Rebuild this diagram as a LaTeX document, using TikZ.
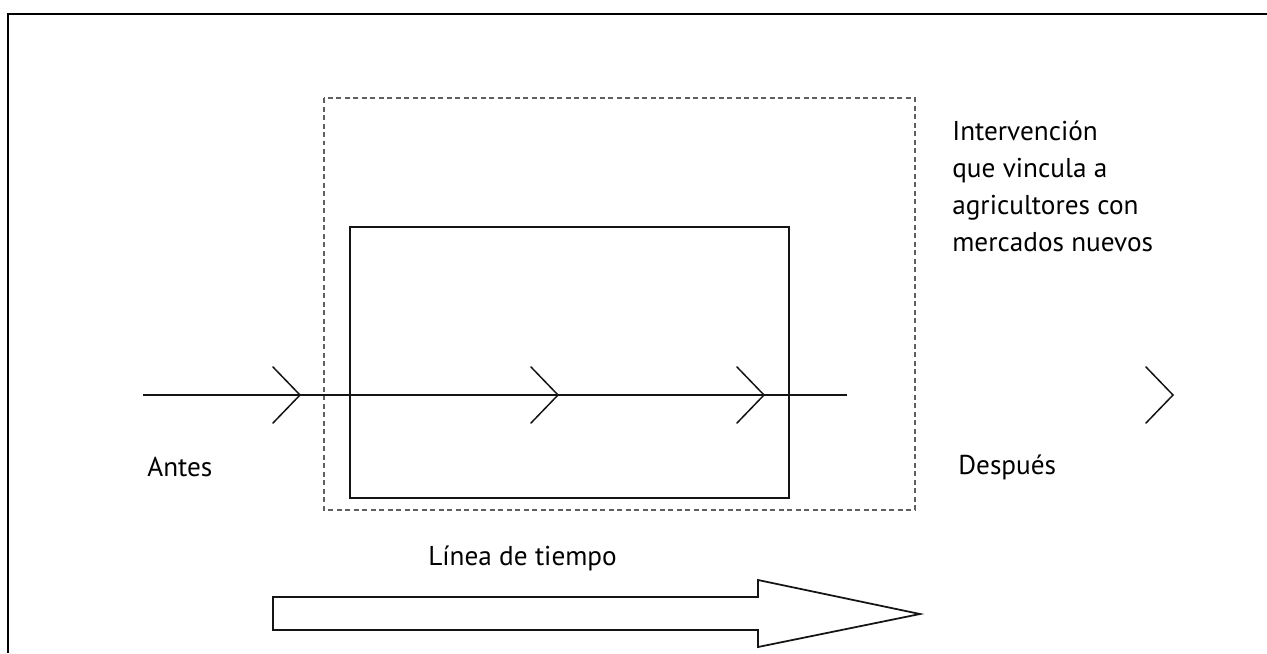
\documentclass[tikz,border=0pt]{standalone}
\usepackage{fontspec}
\setmainfont{PT Sans}
\definecolor{lineA}{RGB}{20, 20, 20}
\definecolor{dashA}{RGB}{95, 95, 95}

\begin{document}
\begin{tikzpicture}[x=0.02cm, y=-0.02cm, font=\fontsize{15.5}{21}\selectfont]
  \useasboundingbox (0,0) rectangle (1267,653);
  \coordinate (tl) at (8,14);
  \coordinate (tr) at (1267,14);
  \coordinate (bl) at (8,653);
  \coordinate (dA) at (324,98);
  \coordinate (dB) at (915,510);
  \coordinate (bA) at (350,227);
  \coordinate (bB) at (789,498);
  \coordinate (start) at (143,395);
  \coordinate (end) at (847,395);

  \draw[line width=0.45mm] (bl) -- (tl) -- (tr);
  \draw[color=dashA, line width=0.3mm, dash pattern=on 0.1cm off 0.07cm] (dA) rectangle (dB);
  \draw[color=lineA, line width=0.4mm] (bA) rectangle (bB);
  \draw[color=lineA, line width=0.35mm] (start) -- (end);
  \foreach \t in {300, 558, 764, 1173}
    \draw[color=lineA, line width=0.3mm, line cap=round] (\t-27,367) -- (\t,395) -- (\t-27,423);

  \draw[color=lineA, line width=0.35mm, line join=miter] (273,597) -- (758,597) -- (758,580) -- (920,614) -- (758,647) -- (758,630) -- (273,630) -- cycle;

  \node[anchor=north west, align=left, inner sep=0pt] (interv) at (952,121) {Intervención\\que vincula a\\agricultores con\\mercados nuevos};
  \node[anchor=west, inner sep=0pt] (antes) at (147,467) {Antes};
  \node[anchor=west, inner sep=0pt] (despues) at (958,467) {Después};
  \node[anchor=west, inner sep=0pt] (linea) at (428,558) {Línea de tiempo};
\end{tikzpicture}
\end{document}
